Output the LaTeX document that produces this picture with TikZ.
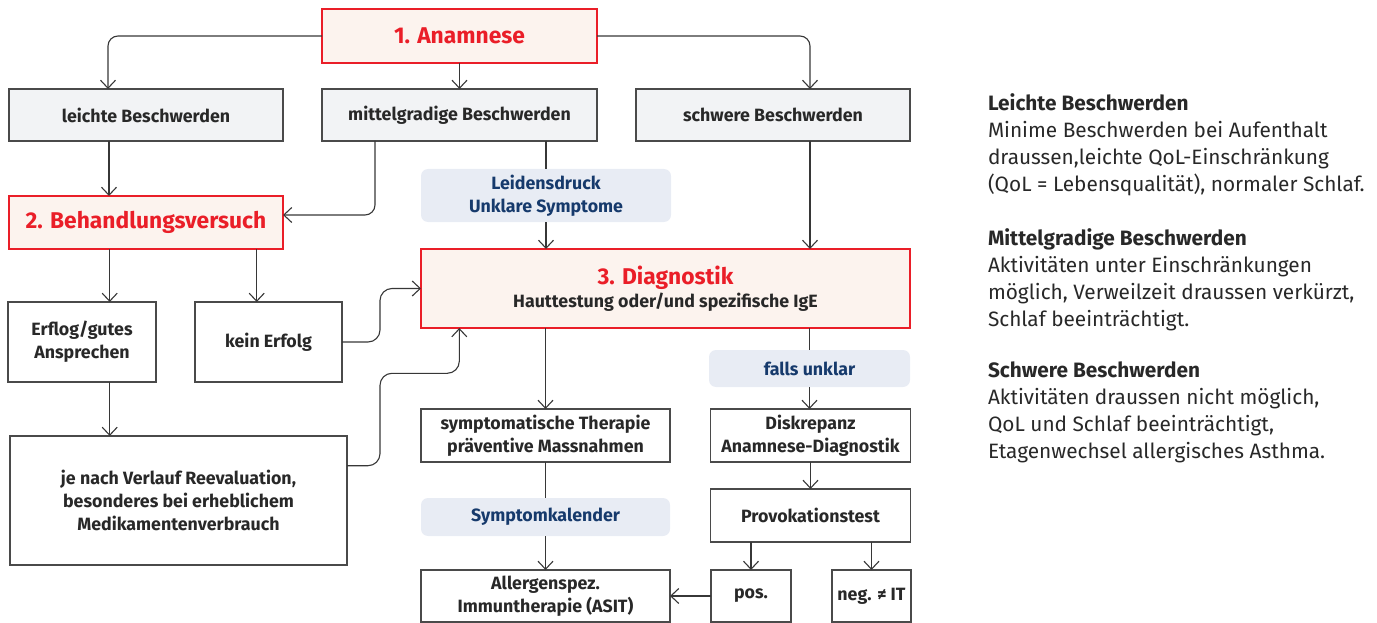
\documentclass[tikz,border=0pt]{standalone}
\usepackage{fontspec}
\setmainfont{Fira Sans}
\usetikzlibrary{arrows.meta,calc}
\definecolor{redc}{RGB}{234,30,40}
\definecolor{peach}{RGB}{252,243,238}
\definecolor{grayfill}{RGB}{242,243,245}
\definecolor{boxline}{RGB}{74,74,74}
\definecolor{pillfill}{RGB}{232,236,244}
\definecolor{navy}{RGB}{22,58,108}
\definecolor{txt}{RGB}{40,40,40}
\definecolor{linec}{RGB}{55,55,55}
\begin{document}
\begin{tikzpicture}[x=1pt,y=-1pt,
  every node/.style={inner sep=0pt,outer sep=0pt,align=center,text=txt},
  redbox/.style={draw=redc,line width=2.4pt,fill=peach,text=redc,font=\fontsize{22.8}{26}\selectfont\bfseries},
  graybox/.style={draw=boxline,line width=1.1pt,fill=grayfill,font=\fontsize{17.8}{23}\selectfont\bfseries},
  whitebox/.style={draw=boxline,line width=1.1pt,fill=white,font=\fontsize{17.8}{23}\selectfont\bfseries},
  pill/.style={fill=pillfill,rounded corners=7pt,text=navy,font=\fontsize{17.8}{23}\selectfont\bfseries},
  conn/.style={draw=linec,line width=1.1pt},
  arr/.style={conn,-{Straight Barb[length=8pt,width=15pt,line width=1.1pt]}},
  desc/.style={anchor=north west,align=left,font=\fontsize{20.8}{27}\selectfont}
]
\useasboundingbox (0,0) rectangle (1377,623);
% nodes
\node[redbox,minimum width=275pt,minimum height=54pt] (ana) at (459.5,36) {1. Anamnese};
\node[graybox,minimum width=274pt,minimum height=52pt] (leicht) at (146,115) {leichte Beschwerden};
\node[graybox,minimum width=275pt,minimum height=52pt] (mittel) at (459.5,115) {mittelgradige Beschwerden};
\node[graybox,minimum width=274pt,minimum height=52pt] (schwer) at (773,115) {schwere Beschwerden};
\node[pill,minimum width=250pt,minimum height=53pt] (leid) at (546,195.5) {Leidensdruck\\Unklare Symptome};
\node[redbox,minimum width=274pt,minimum height=53pt] (behand) at (146,222.5) {2. Behandlungsversuch};
\node[redbox,minimum width=489pt,minimum height=79pt,font=\fontsize{22.8}{23}\selectfont\bfseries] (diag) at (665.5,288.5) {3. Diagnostik\\[0pt]{\color{txt}\fontsize{17.8}{22}\selectfont Hauttestung oder/und spezifische IgE}};
\node[whitebox,minimum width=148pt,minimum height=80pt] (erfolg) at (82,342) {Erflog/gutes\\Ansprechen};
\node[whitebox,minimum width=147pt,minimum height=80pt] (kein) at (268.5,342) {kein Erfolg};
\node[whitebox,minimum width=337pt,minimum height=129pt] (jenach) at (178.5,500.5) {je nach Verlauf Reevaluation,\\besonderes bei erheblichem\\Medikamentenverbrauch};
\node[pill,minimum width=201pt,minimum height=37pt] (falls) at (809.5,368.5) {falls unklar};
\node[whitebox,minimum width=249pt,minimum height=53pt] (sympt) at (545.5,435.5) {symptomatische Therapie\\präventive Massnahmen};
\node[whitebox,minimum width=200pt,minimum height=53pt] (diskr) at (810.5,435.5) {Diskrepanz\\Anamnese-Diagnostik};
\node[pill,minimum width=249pt,minimum height=38pt] (kal) at (545.5,517) {Symptomkalender};
\node[whitebox,minimum width=200pt,minimum height=53pt] (provo) at (810.5,515.5) {Provokationstest};
\node[whitebox,minimum width=249pt,minimum height=52pt] (allerg) at (545.5,596) {Allergenspez.\\Immuntherapie (ASIT)};
\node[whitebox,minimum width=80pt,minimum height=52pt] (pos) at (751,596) {pos.};
\node[whitebox,minimum width=79pt,minimum height=52pt] (neg) at (871.5,596) {neg. ≠ IT};
% description
\node[desc] (d1) at (988,94) {\textbf{Leichte Beschwerden}\\Minime Beschwerden bei Aufenthalt\\draussen,leichte QoL-Einschränkung\\(QoL = Lebensqualität), normaler Schlaf.};
\node[desc] (d2) at (988,229) {\textbf{Mittelgradige Beschwerden}\\Aktivitäten unter Einschränkungen\\möglich, Verweilzeit draussen verkürzt,\\Schlaf beeinträchtigt.};
\node[desc] (d3) at (988,362) {\textbf{Schwere Beschwerden}\\Aktivitäten draussen nicht möglich,\\QoL und Schlaf beeinträchtigt,\\Etagenwechsel allergisches Asthma.};
% connectors
\draw[arr,rounded corners=10pt] (ana.west) -| ([xshift=-38pt]leicht.north);
\draw[arr,rounded corners=10pt] (ana.east) -| ([xshift=37pt]schwer.north);
\draw[arr] (ana.south) -- (mittel.north);
\draw[arr] ([xshift=-37pt]leicht.south) -- ([xshift=-37pt]behand.north);
\draw[arr,rounded corners=10pt] ([xshift=-84.5pt]mittel.south) |- ([yshift=7.5pt]behand.east);
\draw[conn] (leid.north |- mittel.south) -- (leid.north);
\draw[arr] (leid.south) -- (leid.south |- diag.north);
\draw[arr] ([xshift=37pt]schwer.south) -- ([xshift=37pt]schwer.south |- diag.north);
\draw[arr] ([xshift=-36.3pt]behand.south) -- ([xshift=-36.3pt]behand.south |- erfolg.north);
\draw[arr] ([xshift=110.7pt]behand.south) -- ([xshift=110.7pt]behand.south |- kein.north);
\draw[arr] ([xshift=27.7pt]erfolg.south) -- ([xshift=27.7pt]erfolg.south |- jenach.north);
\coordinate (k1) at (380,315);
\draw[arr,rounded corners=12pt] (kein.east) -| (k1) |- (diag.west);
\coordinate (j1) at (380,373.3);
\draw[arr,rounded corners=12pt] ([yshift=34.8pt]jenach.east) -| (j1) -| ([xshift=-206.2pt]diag.south);
\draw[arr] (sympt.north |- diag.south) -- (sympt.north);
\draw[conn] (falls.north |- diag.south) -- (falls.north);
\draw[arr] (falls.south) -- (falls.south |- diskr.north);
\draw[arr] (diskr.south) -- (provo.north);
\draw[conn] (sympt.south) -- (kal.north);
\draw[arr] (kal.south) -- (allerg.north);
\draw[arr] (pos.north |- provo.south) -- (pos.north);
\draw[arr] (neg.north |- provo.south) -- (neg.north);
\draw[arr] (pos.west) -- (allerg.east);
\end{tikzpicture}
\end{document}
